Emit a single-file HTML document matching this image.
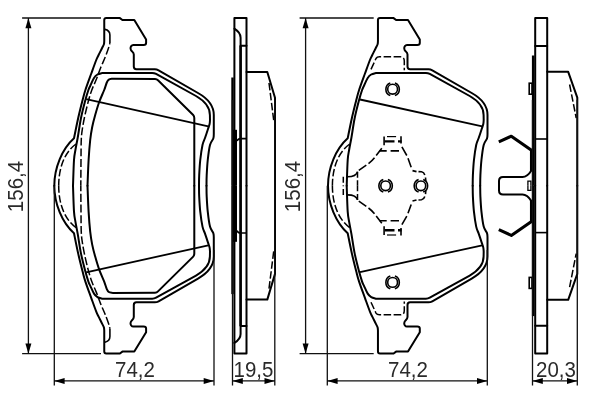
<!DOCTYPE html>
<html><head><meta charset="utf-8"><title>Brake pad drawing</title>
<style>
html,body{margin:0;padding:0;background:#fff;}
body{width:600px;height:400px;overflow:hidden;font-family:"Liberation Sans",sans-serif;}
svg{display:block;filter:grayscale(1);}
</style></head>
<body>
<svg width="600" height="400" viewBox="0 0 600 400">
<rect width="600" height="400" fill="#fff"/>
<!-- pad 1 front view -->
<path d="M 54.30,185.80 C 54.30,168.00 62.00,149.00 74.00,138.30 C 74.70,134.92 76.77,124.38 78.20,118.00 C 79.63,111.62 81.40,104.67 82.60,100.00 C 83.80,95.33 83.95,94.42 85.40,90.00 C 86.85,85.58 89.49,78.50 91.30,73.50 C 93.11,68.50 95.03,63.08 96.25,60.00 C 97.47,56.92 97.62,57.00 98.60,55.00 C 99.57,53.00 101.22,49.80 102.10,48.00 C 102.98,46.20 103.54,45.37 103.90,44.20 C 104.26,43.03 104.19,41.53 104.25,41.00 L 104.25,20.10 Q 104.25,18.10 106.25,18.10 L 119.90,18.10 L 122.40,20.00 L 134.30,20.00 L 146.10,39.40 L 146.10,43.00 Q 146.10,45.00 143.60,45.00 L 133.30,45.00 C 131.50,45.00 130.40,46.80 130.55,48.50 C 130.70,50.00 131.30,50.70 131.80,51.10 C 132.80,51.90 133.80,52.60 133.80,54.50 L 133.80,66.60 Q 133.80,69.30 136.40,69.30 L 154.80,69.30 Q 156.80,69.30 158.60,70.30 L 198.00,93.00 C 206.00,97.50 213.80,104.00 213.80,115.00 L 213.80,134.00 C 213.72,134.75 213.93,136.67 213.30,138.50 C 212.67,140.33 210.93,141.42 210.00,145.00 C 209.07,148.58 208.30,155.00 207.75,160.00 C 207.20,165.00 206.91,170.70 206.70,175.00 C 206.49,179.30 206.53,184.00 206.50,185.80" fill="none" stroke="#000" stroke-width="2" stroke-linejoin="round" stroke-linecap="round"/><path d="M 73.00,185.80 C 73.17,181.50 73.58,166.05 74.00,160.00 C 74.42,153.95 74.88,153.25 75.50,149.50 C 76.12,145.75 76.83,142.75 77.75,137.50 C 78.67,132.25 79.72,124.25 81.00,118.00 C 82.28,111.75 84.17,104.67 85.40,100.00 C 86.63,95.33 87.57,92.42 88.40,90.00 C 89.23,87.58 89.47,87.50 90.40,85.50 C 91.33,83.50 92.82,79.83 94.00,78.00 C 95.18,76.17 96.08,75.35 97.50,74.50 C 98.92,73.65 101.67,73.17 102.50,72.90 L 152.20,72.90 Q 154.30,72.90 156.10,73.90 L 196.00,96.00 C 203.00,100.00 209.90,106.00 209.90,115.00 L 210.00,120.00 C 209.93,120.67 209.93,122.50 209.60,124.00 C 209.27,125.50 208.77,126.67 208.00,129.00 C 207.23,131.33 205.92,135.33 205.00,138.00 C 204.08,140.67 203.29,141.33 202.50,145.00 C 201.71,148.67 200.80,155.00 200.25,160.00 C 199.70,165.00 199.41,170.70 199.20,175.00 C 198.99,179.30 199.03,184.00 199.00,185.80" fill="none" stroke="#000" stroke-width="2" stroke-linejoin="round" stroke-linecap="round"/><path d="M 87.50,185.80 C 87.68,181.50 88.15,167.63 88.60,160.00 C 89.05,152.37 89.60,145.50 90.20,140.00 C 90.80,134.50 91.37,131.17 92.20,127.00 C 93.03,122.83 94.03,119.17 95.20,115.00 C 96.37,110.83 97.70,106.17 99.20,102.00 C 100.70,97.83 102.93,93.25 104.20,90.00 C 105.47,86.75 106.03,84.23 106.80,82.50 C 107.57,80.77 107.85,80.23 108.80,79.60 C 109.75,78.97 111.88,78.85 112.50,78.70 L 155,78.9 Q 156.8,78.9 158,80.2 L 193.2,115 Q 194.3,116.1 194.3,118 L 194.3,185.8" fill="none" stroke="#000" stroke-width="2" stroke-linejoin="round" stroke-linecap="round"/><path d="M 86.2,99.2 L 208.3,126.3" fill="none" stroke="#000" stroke-width="1.8"/><path d="M 104.9,29.4 C 108,30 109.9,31 109.9,35 L 109.9,43.1" fill="none" stroke="#000" stroke-width="1.6" stroke-linecap="butt"/><path d="M 109.90,43.10 C 109.72,43.79 109.58,44.93 108.80,47.25 C 108.02,49.57 106.59,53.62 105.25,57.00 C 103.91,60.38 102.25,63.75 100.75,67.50 C 99.25,71.25 97.74,75.75 96.25,79.50 C 94.76,83.25 93.11,86.42 91.80,90.00 C 90.49,93.58 89.53,96.83 88.40,101.00 C 87.27,105.17 85.97,110.58 85.00,115.00 C 84.03,119.42 83.22,123.50 82.60,127.50 C 81.98,131.50 81.57,133.58 81.30,139.00 C 81.03,144.42 81.08,152.20 81.00,160.00 C 80.92,167.80 80.83,181.50 80.80,185.80" fill="none" stroke="#000" stroke-width="1.5" stroke-dasharray="8 2.6" stroke-dashoffset="6.6"/><path d="M 76.00,144.00 C 65.00,152.00 58.70,167.00 58.70,185.80" fill="none" stroke="#000" stroke-width="1.5" stroke-dasharray="7.5 2.5"/>
<g transform="translate(0,371.6) scale(1,-1)"><path d="M 54.30,185.80 C 54.30,168.00 62.00,149.00 74.00,138.30 C 74.70,134.92 76.77,124.38 78.20,118.00 C 79.63,111.62 81.40,104.67 82.60,100.00 C 83.80,95.33 83.95,94.42 85.40,90.00 C 86.85,85.58 89.49,78.50 91.30,73.50 C 93.11,68.50 95.03,63.08 96.25,60.00 C 97.47,56.92 97.62,57.00 98.60,55.00 C 99.57,53.00 101.22,49.80 102.10,48.00 C 102.98,46.20 103.54,45.37 103.90,44.20 C 104.26,43.03 104.19,41.53 104.25,41.00 L 104.25,20.10 Q 104.25,18.10 106.25,18.10 L 119.90,18.10 L 122.40,20.00 L 134.30,20.00 L 146.10,39.40 L 146.10,43.00 Q 146.10,45.00 143.60,45.00 L 133.30,45.00 C 131.50,45.00 130.40,46.80 130.55,48.50 C 130.70,50.00 131.30,50.70 131.80,51.10 C 132.80,51.90 133.80,52.60 133.80,54.50 L 133.80,66.60 Q 133.80,69.30 136.40,69.30 L 154.80,69.30 Q 156.80,69.30 158.60,70.30 L 198.00,93.00 C 206.00,97.50 213.80,104.00 213.80,115.00 L 213.80,134.00 C 213.72,134.75 213.93,136.67 213.30,138.50 C 212.67,140.33 210.93,141.42 210.00,145.00 C 209.07,148.58 208.30,155.00 207.75,160.00 C 207.20,165.00 206.91,170.70 206.70,175.00 C 206.49,179.30 206.53,184.00 206.50,185.80" fill="none" stroke="#000" stroke-width="2" stroke-linejoin="round" stroke-linecap="round"/><path d="M 73.00,185.80 C 73.17,181.50 73.58,166.05 74.00,160.00 C 74.42,153.95 74.88,153.25 75.50,149.50 C 76.12,145.75 76.83,142.75 77.75,137.50 C 78.67,132.25 79.72,124.25 81.00,118.00 C 82.28,111.75 84.17,104.67 85.40,100.00 C 86.63,95.33 87.57,92.42 88.40,90.00 C 89.23,87.58 89.47,87.50 90.40,85.50 C 91.33,83.50 92.82,79.83 94.00,78.00 C 95.18,76.17 96.08,75.35 97.50,74.50 C 98.92,73.65 101.67,73.17 102.50,72.90 L 152.20,72.90 Q 154.30,72.90 156.10,73.90 L 196.00,96.00 C 203.00,100.00 209.90,106.00 209.90,115.00 L 210.00,120.00 C 209.93,120.67 209.93,122.50 209.60,124.00 C 209.27,125.50 208.77,126.67 208.00,129.00 C 207.23,131.33 205.92,135.33 205.00,138.00 C 204.08,140.67 203.29,141.33 202.50,145.00 C 201.71,148.67 200.80,155.00 200.25,160.00 C 199.70,165.00 199.41,170.70 199.20,175.00 C 198.99,179.30 199.03,184.00 199.00,185.80" fill="none" stroke="#000" stroke-width="2" stroke-linejoin="round" stroke-linecap="round"/><path d="M 87.50,185.80 C 87.68,181.50 88.15,167.63 88.60,160.00 C 89.05,152.37 89.60,145.50 90.20,140.00 C 90.80,134.50 91.37,131.17 92.20,127.00 C 93.03,122.83 94.03,119.17 95.20,115.00 C 96.37,110.83 97.70,106.17 99.20,102.00 C 100.70,97.83 102.93,93.25 104.20,90.00 C 105.47,86.75 106.03,84.23 106.80,82.50 C 107.57,80.77 107.85,80.23 108.80,79.60 C 109.75,78.97 111.88,78.85 112.50,78.70 L 155,78.9 Q 156.8,78.9 158,80.2 L 193.2,115 Q 194.3,116.1 194.3,118 L 194.3,185.8" fill="none" stroke="#000" stroke-width="2" stroke-linejoin="round" stroke-linecap="round"/><path d="M 86.2,99.2 L 208.3,126.3" fill="none" stroke="#000" stroke-width="1.8"/><path d="M 104.9,29.4 C 108,30 109.9,31 109.9,35 L 109.9,43.1" fill="none" stroke="#000" stroke-width="1.6" stroke-linecap="butt"/><path d="M 109.90,43.10 C 109.72,43.79 109.58,44.93 108.80,47.25 C 108.02,49.57 106.59,53.62 105.25,57.00 C 103.91,60.38 102.25,63.75 100.75,67.50 C 99.25,71.25 97.74,75.75 96.25,79.50 C 94.76,83.25 93.11,86.42 91.80,90.00 C 90.49,93.58 89.53,96.83 88.40,101.00 C 87.27,105.17 85.97,110.58 85.00,115.00 C 84.03,119.42 83.22,123.50 82.60,127.50 C 81.98,131.50 81.57,133.58 81.30,139.00 C 81.03,144.42 81.08,152.20 81.00,160.00 C 80.92,167.80 80.83,181.50 80.80,185.80" fill="none" stroke="#000" stroke-width="1.5" stroke-dasharray="8 2.6" stroke-dashoffset="6.6"/><path d="M 76.00,144.00 C 65.00,152.00 58.70,167.00 58.70,185.80" fill="none" stroke="#000" stroke-width="1.5" stroke-dasharray="7.5 2.5"/></g>
<!-- pad 1 side view -->
<path d="M 234.4,185.8 L 234.4,18 L 246.5,18 L 246.5,185.8" fill="none" stroke="#000" stroke-width="2" stroke-linejoin="round" stroke-linecap="round"/><path d="M 234.4,28.7 C 238,31 240.6,33.5 240.6,37.7 L 240.6,185.8" fill="none" stroke="#000" stroke-width="2" stroke-linejoin="round" stroke-linecap="round"/><path d="M 240.6,45.7 L 246.5,45.7" fill="none" stroke="#000" stroke-width="2" stroke-linejoin="round" stroke-linecap="round"/><path d="M 240.6,45.7 L 240.6,185.8" fill="none" stroke="#000" stroke-width="2.5"/><path d="M 246.5,72 L 267.3,72 L 275,97.7 L 275,185.8" fill="none" stroke="#000" stroke-width="2" stroke-linejoin="round" stroke-linecap="round"/><path d="M 269,83 L 273.8,121" fill="none" stroke="#000" stroke-width="1.5" stroke-dasharray="7.5 2.5"/><path d="M 232.5,77.5 L 232.5,185.8" fill="none" stroke="#000" stroke-width="2.4"/><rect x="233" y="129.8" width="4" height="56" fill="#000"/><path d="M 237,141 Q 238,138.6 240.6,138.6 L 246.8,138.6" fill="none" stroke="#000" stroke-width="1.6" stroke-linecap="butt"/>
<g transform="translate(0,371.6) scale(1,-1)"><path d="M 234.4,185.8 L 234.4,18 L 246.5,18 L 246.5,185.8" fill="none" stroke="#000" stroke-width="2" stroke-linejoin="round" stroke-linecap="round"/><path d="M 234.4,28.7 C 238,31 240.6,33.5 240.6,37.7 L 240.6,185.8" fill="none" stroke="#000" stroke-width="2" stroke-linejoin="round" stroke-linecap="round"/><path d="M 240.6,45.7 L 246.5,45.7" fill="none" stroke="#000" stroke-width="2" stroke-linejoin="round" stroke-linecap="round"/><path d="M 240.6,45.7 L 240.6,185.8" fill="none" stroke="#000" stroke-width="2.5"/><path d="M 246.5,72 L 267.3,72 L 275,97.7 L 275,185.8" fill="none" stroke="#000" stroke-width="2" stroke-linejoin="round" stroke-linecap="round"/><path d="M 269,83 L 273.8,121" fill="none" stroke="#000" stroke-width="1.5" stroke-dasharray="7.5 2.5"/><path d="M 232.5,77.5 L 232.5,185.8" fill="none" stroke="#000" stroke-width="2.4"/><rect x="233" y="129.8" width="4" height="56" fill="#000"/><path d="M 237,141 Q 238,138.6 240.6,138.6 L 246.8,138.6" fill="none" stroke="#000" stroke-width="1.6" stroke-linecap="butt"/></g>
<!-- pad 2 front view -->
<path d="M 328.00,185.80 C 328.00,168.00 335.70,149.00 347.70,138.30 C 348.40,134.92 350.47,124.38 351.90,118.00 C 353.33,111.62 355.10,104.67 356.30,100.00 C 357.50,95.33 357.65,94.42 359.10,90.00 C 360.55,85.58 363.19,78.50 365.00,73.50 C 366.81,68.50 368.73,63.08 369.95,60.00 C 371.17,56.92 371.32,57.00 372.30,55.00 C 373.27,53.00 374.92,49.80 375.80,48.00 C 376.68,46.20 377.24,45.37 377.60,44.20 C 377.96,43.03 377.89,41.53 377.95,41.00 L 377.95,20.10 Q 377.95,18.10 379.95,18.10 L 393.60,18.10 L 396.10,20.00 L 408.00,20.00 L 419.80,39.40 L 419.80,43.00 Q 419.80,45.00 417.30,45.00 L 407.00,45.00 C 405.20,45.00 404.10,46.80 404.25,48.50 C 404.40,50.00 405.00,50.70 405.50,51.10 C 406.50,51.90 407.50,52.60 407.50,54.50 L 407.50,66.60 Q 407.50,69.30 410.10,69.30 L 428.50,69.30 Q 430.50,69.30 432.30,70.30 L 471.70,93.00 C 479.70,97.50 487.50,104.00 487.50,115.00 L 487.50,134.00 C 487.42,134.75 487.63,136.67 487.00,138.50 C 486.37,140.33 484.62,141.42 483.70,145.00 C 482.77,148.58 482.00,155.00 481.45,160.00 C 480.90,165.00 480.61,170.70 480.40,175.00 C 480.19,179.30 480.23,184.00 480.20,185.80" fill="none" stroke="#000" stroke-width="2" stroke-linejoin="round" stroke-linecap="round"/><path d="M 346.70,185.80 C 346.87,181.50 347.28,166.05 347.70,160.00 C 348.12,153.95 348.57,153.25 349.20,149.50 C 349.82,145.75 350.53,142.75 351.45,137.50 C 352.37,132.25 353.42,124.25 354.70,118.00 C 355.98,111.75 357.87,104.67 359.10,100.00 C 360.33,95.33 361.27,92.42 362.10,90.00 C 362.93,87.58 363.17,87.50 364.10,85.50 C 365.03,83.50 366.52,79.83 367.70,78.00 C 368.88,76.17 369.78,75.35 371.20,74.50 C 372.62,73.65 375.37,73.17 376.20,72.90 L 425.90,72.90 Q 428.00,72.90 429.80,73.90 L 469.70,96.00 C 476.70,100.00 483.60,106.00 483.60,115.00 L 483.70,120.00 C 483.63,120.67 483.63,122.50 483.30,124.00 C 482.97,125.50 482.47,126.67 481.70,129.00 C 480.93,131.33 479.62,135.33 478.70,138.00 C 477.78,140.67 476.99,141.33 476.20,145.00 C 475.41,148.67 474.50,155.00 473.95,160.00 C 473.40,165.00 473.11,170.70 472.90,175.00 C 472.69,179.30 472.73,184.00 472.70,185.80" fill="none" stroke="#000" stroke-width="2" stroke-linejoin="round" stroke-linecap="round"/><path d="M 360,99.5 L 482.2,126.3" fill="none" stroke="#000" stroke-width="1.8"/><path d="M 371,69.4 L 376,58.5 Q 377,56.8 379.5,56.8 L 400.3,56.8 Q 404.3,56.8 404.3,61 L 404.3,70.2" fill="none" stroke="#000" stroke-width="1.5" stroke-dasharray="7.5 2.5"/><circle cx="392.6" cy="89.2" r="4.9" fill="none" stroke="#000" stroke-width="1.6" stroke-linecap="butt"/><path d="M 390.3,82.9 A 6.7 6.7 0 0 0 390.3,95.5 M 394.9,82.9 A 6.7 6.7 0 0 1 394.9,95.5" fill="none" stroke="#000" stroke-width="1.6" stroke-linecap="butt"/><path d="M 349.70,144.00 C 338.70,152.00 332.40,167.00 332.40,185.80" fill="none" stroke="#000" stroke-width="1.5" stroke-dasharray="7.5 2.5"/>
<g transform="translate(0,371.6) scale(1,-1)"><path d="M 328.00,185.80 C 328.00,168.00 335.70,149.00 347.70,138.30 C 348.40,134.92 350.47,124.38 351.90,118.00 C 353.33,111.62 355.10,104.67 356.30,100.00 C 357.50,95.33 357.65,94.42 359.10,90.00 C 360.55,85.58 363.19,78.50 365.00,73.50 C 366.81,68.50 368.73,63.08 369.95,60.00 C 371.17,56.92 371.32,57.00 372.30,55.00 C 373.27,53.00 374.92,49.80 375.80,48.00 C 376.68,46.20 377.24,45.37 377.60,44.20 C 377.96,43.03 377.89,41.53 377.95,41.00 L 377.95,20.10 Q 377.95,18.10 379.95,18.10 L 393.60,18.10 L 396.10,20.00 L 408.00,20.00 L 419.80,39.40 L 419.80,43.00 Q 419.80,45.00 417.30,45.00 L 407.00,45.00 C 405.20,45.00 404.10,46.80 404.25,48.50 C 404.40,50.00 405.00,50.70 405.50,51.10 C 406.50,51.90 407.50,52.60 407.50,54.50 L 407.50,66.60 Q 407.50,69.30 410.10,69.30 L 428.50,69.30 Q 430.50,69.30 432.30,70.30 L 471.70,93.00 C 479.70,97.50 487.50,104.00 487.50,115.00 L 487.50,134.00 C 487.42,134.75 487.63,136.67 487.00,138.50 C 486.37,140.33 484.62,141.42 483.70,145.00 C 482.77,148.58 482.00,155.00 481.45,160.00 C 480.90,165.00 480.61,170.70 480.40,175.00 C 480.19,179.30 480.23,184.00 480.20,185.80" fill="none" stroke="#000" stroke-width="2" stroke-linejoin="round" stroke-linecap="round"/><path d="M 346.70,185.80 C 346.87,181.50 347.28,166.05 347.70,160.00 C 348.12,153.95 348.57,153.25 349.20,149.50 C 349.82,145.75 350.53,142.75 351.45,137.50 C 352.37,132.25 353.42,124.25 354.70,118.00 C 355.98,111.75 357.87,104.67 359.10,100.00 C 360.33,95.33 361.27,92.42 362.10,90.00 C 362.93,87.58 363.17,87.50 364.10,85.50 C 365.03,83.50 366.52,79.83 367.70,78.00 C 368.88,76.17 369.78,75.35 371.20,74.50 C 372.62,73.65 375.37,73.17 376.20,72.90 L 425.90,72.90 Q 428.00,72.90 429.80,73.90 L 469.70,96.00 C 476.70,100.00 483.60,106.00 483.60,115.00 L 483.70,120.00 C 483.63,120.67 483.63,122.50 483.30,124.00 C 482.97,125.50 482.47,126.67 481.70,129.00 C 480.93,131.33 479.62,135.33 478.70,138.00 C 477.78,140.67 476.99,141.33 476.20,145.00 C 475.41,148.67 474.50,155.00 473.95,160.00 C 473.40,165.00 473.11,170.70 472.90,175.00 C 472.69,179.30 472.73,184.00 472.70,185.80" fill="none" stroke="#000" stroke-width="2" stroke-linejoin="round" stroke-linecap="round"/><path d="M 360,99.5 L 482.2,126.3" fill="none" stroke="#000" stroke-width="1.8"/><path d="M 371,69.4 L 376,58.5 Q 377,56.8 379.5,56.8 L 400.3,56.8 Q 404.3,56.8 404.3,61 L 404.3,70.2" fill="none" stroke="#000" stroke-width="1.5" stroke-dasharray="7.5 2.5"/><circle cx="392.6" cy="89.2" r="4.9" fill="none" stroke="#000" stroke-width="1.6" stroke-linecap="butt"/><path d="M 390.3,82.9 A 6.7 6.7 0 0 0 390.3,95.5 M 394.9,82.9 A 6.7 6.7 0 0 1 394.9,95.5" fill="none" stroke="#000" stroke-width="1.6" stroke-linecap="butt"/><path d="M 349.70,144.00 C 338.70,152.00 332.40,167.00 332.40,185.80" fill="none" stroke="#000" stroke-width="1.5" stroke-dasharray="7.5 2.5"/></g>
<path d="M 384.1,136.5 L 384.1,145.3 M 401,136.2 L 401,143.6" fill="none" stroke="#000" stroke-width="1.6" stroke-linecap="butt"/><path d="M 387,136.6 L 396.1,136.6" fill="none" stroke="#000" stroke-width="1.2"/><path d="M 384.7,141.4 L 394.5,141.4 M 398,141.4 L 401.6,141.4" fill="none" stroke="#000" stroke-width="2.4"/><path d="M 379.5,150.9 L 386.7,150.9 M 390.6,150.9 L 399,150.9" fill="none" stroke="#000" stroke-width="1.6" stroke-linecap="butt"/><path d="M 401.9,146.9 L 406.8,155.5 M 408,158.3 L 411.2,167.2" fill="none" stroke="#000" stroke-width="1.6" stroke-linecap="butt"/><path d="M 412.5,170.6 L 416.5,171.6 M 418.5,171.6 L 421.5,171.8 Q 424,172.3 424.8,175 M 425.5,177.5 L 425.8,181" fill="none" stroke="#000" stroke-width="1.6" stroke-linecap="butt"/><path d="M 381.8,148.3 L 376.2,155.5 M 374.5,157.8 Q 372,161 368.5,163.6 M 366.3,165.2 L 358.8,170.4" fill="none" stroke="#000" stroke-width="1.6" stroke-linecap="butt"/><path d="M 357.5,171.7 L 357.5,185.8" fill="none" stroke="#000" stroke-width="1.5" stroke-dasharray="6 2.6"/><path d="M 347.5,176.7 C 353,176.7 356.5,175.5 357.5,171.7" fill="none" stroke="#000" stroke-width="1.6" stroke-linecap="butt"/><path d="M 343.3,176.7 L 343.3,185.8" fill="none" stroke="#000" stroke-width="1.5" stroke-dasharray="6 2.6"/>
<g transform="translate(0,371.6) scale(1,-1)"><path d="M 384.1,136.5 L 384.1,145.3 M 401,136.2 L 401,143.6" fill="none" stroke="#000" stroke-width="1.6" stroke-linecap="butt"/><path d="M 387,136.6 L 396.1,136.6" fill="none" stroke="#000" stroke-width="1.2"/><path d="M 384.7,141.4 L 394.5,141.4 M 398,141.4 L 401.6,141.4" fill="none" stroke="#000" stroke-width="2.4"/><path d="M 379.5,150.9 L 386.7,150.9 M 390.6,150.9 L 399,150.9" fill="none" stroke="#000" stroke-width="1.6" stroke-linecap="butt"/><path d="M 401.9,146.9 L 406.8,155.5 M 408,158.3 L 411.2,167.2" fill="none" stroke="#000" stroke-width="1.6" stroke-linecap="butt"/><path d="M 412.5,170.6 L 416.5,171.6 M 418.5,171.6 L 421.5,171.8 Q 424,172.3 424.8,175 M 425.5,177.5 L 425.8,181" fill="none" stroke="#000" stroke-width="1.6" stroke-linecap="butt"/><path d="M 381.8,148.3 L 376.2,155.5 M 374.5,157.8 Q 372,161 368.5,163.6 M 366.3,165.2 L 358.8,170.4" fill="none" stroke="#000" stroke-width="1.6" stroke-linecap="butt"/><path d="M 357.5,171.7 L 357.5,185.8" fill="none" stroke="#000" stroke-width="1.5" stroke-dasharray="6 2.6"/><path d="M 347.5,176.7 C 353,176.7 356.5,175.5 357.5,171.7" fill="none" stroke="#000" stroke-width="1.6" stroke-linecap="butt"/><path d="M 343.3,176.7 L 343.3,185.8" fill="none" stroke="#000" stroke-width="1.5" stroke-dasharray="6 2.6"/></g>
<circle cx="385.6" cy="185.8" r="4.8" fill="none" stroke="#000" stroke-width="1.6" stroke-linecap="butt"/>
<path d="M 383.3,179.5 A 6.7 6.7 0 0 0 383.3,192.10000000000002 M 387.90000000000003,179.5 A 6.7 6.7 0 0 1 387.90000000000003,192.10000000000002" fill="none" stroke="#000" stroke-width="1.6" stroke-linecap="butt"/>
<circle cx="420.9" cy="185.8" r="4.8" fill="none" stroke="#000" stroke-width="1.6" stroke-linecap="butt"/>
<path d="M 418.59999999999997,179.5 A 6.7 6.7 0 0 0 418.59999999999997,192.10000000000002 M 423.2,179.5 A 6.7 6.7 0 0 1 423.2,192.10000000000002" fill="none" stroke="#000" stroke-width="1.6" stroke-linecap="butt"/>
<!-- pad 2 side view -->
<path d="M 535.2,185.8 L 535.2,18 L 547.2,18 L 547.2,185.8" fill="none" stroke="#000" stroke-width="2" stroke-linejoin="round" stroke-linecap="round"/><path d="M 535.2,45.9 L 547.2,45.9" fill="none" stroke="#000" stroke-width="2" stroke-linejoin="round" stroke-linecap="round"/><path d="M 536,139 L 547.2,139" fill="none" stroke="#000" stroke-width="1.6" stroke-linecap="butt"/><path d="M 547.2,71.8 L 568.2,71.8 L 577.3,97.7 L 577.3,185.8" fill="none" stroke="#000" stroke-width="2" stroke-linejoin="round" stroke-linecap="round"/><path d="M 569.6,84.5 L 576.2,118" fill="none" stroke="#000" stroke-width="1.5" stroke-dasharray="7.5 2.5"/><path d="M 533.2,55.5 L 533.2,185.8" fill="none" stroke="#000" stroke-width="2.6"/><rect x="529.2" y="83.2" width="2.8" height="11" fill="none" stroke="#000" stroke-width="1.6" stroke-linecap="butt"/><path d="M 498.8,141.9 L 511.3,136.2 L 531.5,150.2 L 531.5,171" fill="none" stroke="#000" stroke-width="3.1" stroke-linejoin="round" stroke-linecap="butt"/><path d="M 531.4,170.5 C 529.5,173.5 526.5,177 522.5,177 L 503,177 Q 499,177 499,181 L 499,185.8" fill="none" stroke="#000" stroke-width="2" stroke-linejoin="round" stroke-linecap="round"/><path d="M 527.9,185.8 L 527.9,181.2 L 530.9,181.2 L 530.9,185.8" fill="none" stroke="#000" stroke-width="1.3"/>
<g transform="translate(0,371.6) scale(1,-1)"><path d="M 535.2,185.8 L 535.2,18 L 547.2,18 L 547.2,185.8" fill="none" stroke="#000" stroke-width="2" stroke-linejoin="round" stroke-linecap="round"/><path d="M 535.2,45.9 L 547.2,45.9" fill="none" stroke="#000" stroke-width="2" stroke-linejoin="round" stroke-linecap="round"/><path d="M 536,139 L 547.2,139" fill="none" stroke="#000" stroke-width="1.6" stroke-linecap="butt"/><path d="M 547.2,71.8 L 568.2,71.8 L 577.3,97.7 L 577.3,185.8" fill="none" stroke="#000" stroke-width="2" stroke-linejoin="round" stroke-linecap="round"/><path d="M 569.6,84.5 L 576.2,118" fill="none" stroke="#000" stroke-width="1.5" stroke-dasharray="7.5 2.5"/><path d="M 533.2,55.5 L 533.2,185.8" fill="none" stroke="#000" stroke-width="2.6"/><rect x="529.2" y="83.2" width="2.8" height="11" fill="none" stroke="#000" stroke-width="1.6" stroke-linecap="butt"/><path d="M 498.8,141.9 L 511.3,136.2 L 531.5,150.2 L 531.5,171" fill="none" stroke="#000" stroke-width="3.1" stroke-linejoin="round" stroke-linecap="butt"/><path d="M 531.4,170.5 C 529.5,173.5 526.5,177 522.5,177 L 503,177 Q 499,177 499,181 L 499,185.8" fill="none" stroke="#000" stroke-width="2" stroke-linejoin="round" stroke-linecap="round"/><path d="M 527.9,185.8 L 527.9,181.2 L 530.9,181.2 L 530.9,185.8" fill="none" stroke="#000" stroke-width="1.3"/></g>
<!-- dimensions -->
<path d="M 22.1,18 L 101,18 M 22.1,353.7 L 101,353.7 M 28.4,18 L 28.4,353.7" fill="none" stroke="#111" stroke-width="1.3"/>
<path d="M 28.4,18 L 31.4,28.3 L 25.4,28.3 Z" fill="#000"/>
<path d="M 28.4,353.7 L 25.4,343.4 L 31.4,343.4 Z" fill="#000"/>
<path d="M 299.6,18 L 373.7,18 M 299.6,353.7 L 373.7,353.7 M 305.6,18 L 305.6,353.7" fill="none" stroke="#111" stroke-width="1.3"/>
<path d="M 305.6,18 L 308.6,28.3 L 302.6,28.3 Z" fill="#000"/>
<path d="M 305.6,353.7 L 302.6,343.4 L 308.6,343.4 Z" fill="#000"/>
<path d="M 54.3,185.8 L 54.3,385.4 M 214,250 L 214,385.4 M 54.3,380.9 L 214,380.9" fill="none" stroke="#111" stroke-width="1.3"/>
<path d="M 54.3,380.9 L 64.6,377.9 L 64.6,383.9 Z" fill="#000"/>
<path d="M 214,380.9 L 203.7,383.9 L 203.7,377.9 Z" fill="#000"/>
<path d="M 327.3,185.8 L 327.3,385.4 M 487.3,250 L 487.3,385.4 M 327.3,380.9 L 487.3,380.9" fill="none" stroke="#111" stroke-width="1.3"/>
<path d="M 327.3,380.9 L 337.6,377.9 L 337.6,383.9 Z" fill="#000"/>
<path d="M 487.3,380.9 L 477.0,383.9 L 477.0,377.9 Z" fill="#000"/>
<path d="M 232.5,100 L 232.5,385.4 M 274.8,100 L 274.8,385.4 M 232.5,380.9 L 274.8,380.9" fill="none" stroke="#111" stroke-width="1.3"/>
<path d="M 232.5,380.9 L 242.8,377.9 L 242.8,383.9 Z" fill="#000"/>
<path d="M 274.8,380.9 L 264.5,383.9 L 264.5,377.9 Z" fill="#000"/>
<path d="M 532.5,100 L 532.5,385.4 M 577.3,100 L 577.3,385.4 M 532.5,380.9 L 577.3,380.9" fill="none" stroke="#111" stroke-width="1.3"/>
<path d="M 532.5,380.9 L 542.8,377.9 L 542.8,383.9 Z" fill="#000"/>
<path d="M 577.3,380.9 L 567.0,383.9 L 567.0,377.9 Z" fill="#000"/>
<text transform="translate(135.0,376.6) scale(1,1.12)" text-anchor="middle" font-family="Liberation Sans, sans-serif" font-size="20.5" fill="#2a2a2a">74,2</text>
<text transform="translate(408.0,376.6) scale(1,1.12)" text-anchor="middle" font-family="Liberation Sans, sans-serif" font-size="20.5" fill="#2a2a2a">74,2</text>
<text transform="translate(253.5,376.6) scale(1,1.12)" text-anchor="middle" font-family="Liberation Sans, sans-serif" font-size="20.5" fill="#2a2a2a">19,5</text>
<text transform="translate(556,376.6) scale(1,1.12)" text-anchor="middle" font-family="Liberation Sans, sans-serif" font-size="20.5" fill="#2a2a2a">20,3</text>
<text transform="translate(22.5,186.5) rotate(-90) scale(1,1.12)" text-anchor="middle" font-family="Liberation Sans, sans-serif" font-size="20.5" fill="#2a2a2a">156,4</text>
<text transform="translate(299.5,186.5) rotate(-90) scale(1,1.12)" text-anchor="middle" font-family="Liberation Sans, sans-serif" font-size="20.5" fill="#2a2a2a">156,4</text>
</svg>
</body></html>
